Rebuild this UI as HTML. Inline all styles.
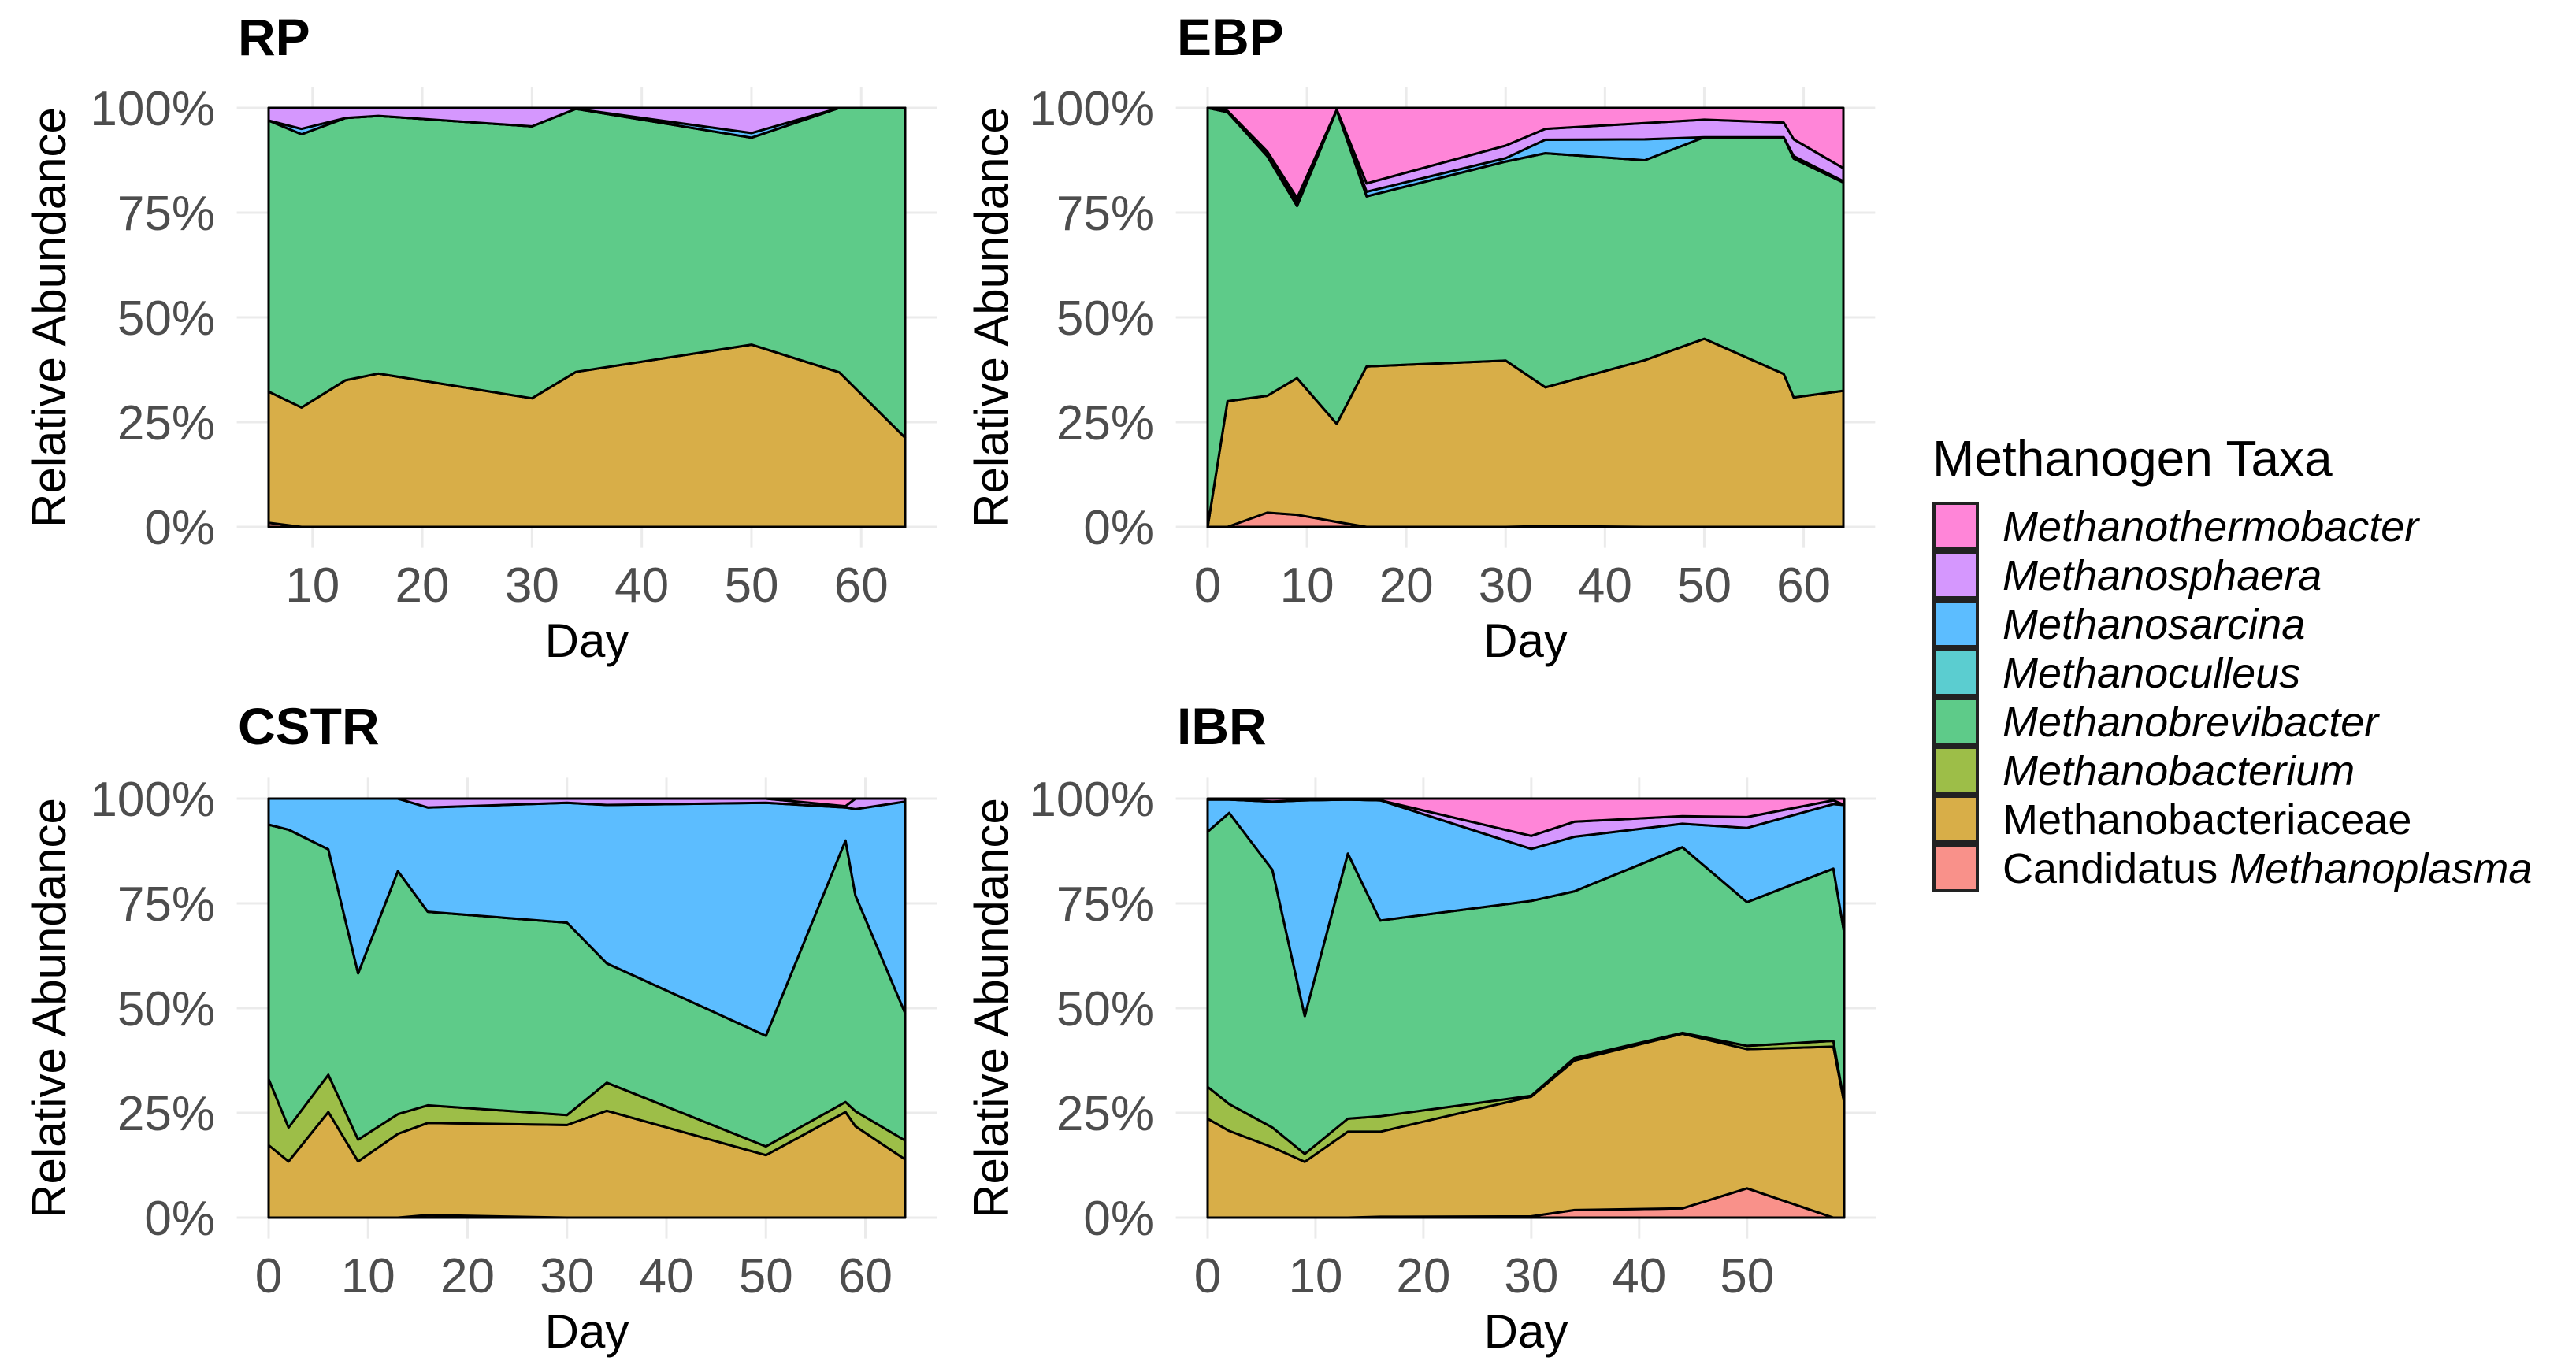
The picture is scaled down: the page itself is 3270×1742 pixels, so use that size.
<!DOCTYPE html>
<html><head><meta charset="utf-8"><style>
html,body{margin:0;padding:0;background:#fff;}
svg{display:block;}
text{font-family:"Liberation Sans",Arial,sans-serif;}
</style></head><body>
<svg id="chart" width="3270" height="1742" viewBox="0 0 3270 1742" xmlns="http://www.w3.org/2000/svg">
<rect x="0" y="0" width="3270" height="1742" fill="#fff"/>
<g id="panels"></g>
<g id="legend">
  <text x="2453" y="604" font-size="64" fill="#000">Methanogen Taxa</text>
</g>
</svg>
<script>
// Taxa (stack order bottom -> top)
const taxaNames = ["Candidatus Methanoplasma","Methanobacteriaceae","Methanobacterium","Methanobrevibacter","Methanoculleus","Methanosarcina","Methanosphaera","Methanothermobacter"];
const taxaColors = ["#F9918A","#D8AE48","#9DBE48","#5ECB89","#5BCDD0","#5CBDFF","#D597FE","#FF85D8"];
const percentTicks = [0,25,50,75,100];
const percentTickLabels = ["0%","25%","50%","75%","100%"];

// RP
const rpDays = [6,9,13,16,30,34,50,58,64];
const rpPlasma = [1,0,0,0,0,0,0,0,0];
const rpBacteriaceae = [31.3,28.5,35,36.6,30.7,37,43.5,36.9,21.3];
const rpBacterium = [0,0,0,0,0,0,0,0,0];
const rpBrevi = [64.7,65.2,62.6,61.5,64.9,62.8,49.4,63.1,78.7];
const rpCulleus = [0,0,0,0,0,0,0,0,0];
const rpSarcina = [0,1.3,0,0,0,0,1.1,0,0];
const rpSphaera = [3,5,2.4,1.9,4.4,0.2,6,0,0];
const rpThermo = [0,0,0,0,0,0,0,0,0];
const rpXTicks = [10,20,30,40,50,60];

// EBP
const ebpDays = [0,2,6,9,13,16,30,34,44,50,58,59,64];
const ebpPlasma = [0,0,3.4,2.9,1.2,0,0,0.2,0,0,0,0,0];
const ebpBacteriaceae = [0,30,27.9,32.6,23.4,38.3,39.7,33.1,39.8,44.9,36.5,30.9,32.5];
const ebpBacterium = [0,0,0,0,0,0,0,0,0,0,0,0,0];
const ebpBrevi = [100,69,57.2,41.1,74.9,40.6,47.5,55.9,47.7,48.1,56.5,57,49.7];
const ebpCulleus = [0,0,0,0,0,0,0,0,0,0,0,0,0];
const ebpSarcina = [0,0.2,0.8,0.9,0,1.1,0.8,3.2,5,0,0,0.6,0.3];
const ebpSphaera = [0,0.1,0.3,1,0.1,2,3,2.6,3.9,4.2,3.5,4,3.1];
const ebpThermo = [0,0.7,10.4,21.5,0.4,18,9,5,3.6,2.8,3.5,7.5,14.4];
const ebpXTicks = [0,10,20,30,40,50,60];

// CSTR
const cstrDays = [0,2,6,9,13,16,30,34,50,58,59,64];
const cstrPlasma = [0,0,0,0,0,0.6,0,0,0,0,0,0];
const cstrBacteriaceae = [17.3,13.4,25.2,13.4,20,22,22.1,25.5,14.9,25.2,21.8,13.9];
const cstrBacterium = [15.8,8.1,8.9,5.2,4.7,4.2,2.4,6.7,2.1,2.4,3.6,4.5];
const cstrBrevi = [60.7,71.1,53.8,39.7,58,46.2,45.9,28.5,26.4,62.4,51.5,30.4];
const cstrCulleus = [0,0,0,0,0,0,0,0,0,0,0,0];
const cstrSarcina = [6.2,7.4,12.1,41.7,17.3,24.9,28.6,37.8,55.6,7.9,20.6,50.5];
const cstrSphaera = [0,0,0,0,0,2.1,1,1.5,1,0.3,2.5,0.7];
const cstrThermo = [0,0,0,0,0,0,0,0,0,1.8,0,0];
const cstrXTicks = [0,10,20,30,40,50,60];

// IBR
const ibrDays = [0,2,6,9,13,16,30,34,44,50,58,59];
const ibrPlasma = [0,0,0,0,0,0.2,0.3,1.8,2.2,7,0,0];
const ibrBacteriaceae = [23.6,20.7,16.8,13.3,20.5,20.3,28.6,35.7,41.7,33.2,40.8,27.5];
const ibrBacterium = [7.6,6.4,4.7,1.9,3.1,3.7,0.2,0.6,0.2,0.8,1.4,0];
const ibrBrevi = [60.9,69.5,61.5,32.9,63.3,46.7,46.5,39.8,44.3,34.3,41.1,40.5];
const ibrCulleus = [0,0,0,0,0,0,0,0,0,0,0,0];
const ibrSarcina = [7.7,3.2,16.3,51.5,12.9,28.7,12.4,13,5.6,17.7,15.4,30.5];
const ibrSphaera = [0,0,0,0,0,0,3.1,3.6,1.8,2.6,0.9,0];
const ibrThermo = [0.2,0.2,0.7,0.4,0.2,0.4,8.9,5.5,4.2,4.4,0.4,1.5];
const ibrXTicks = [0,10,20,30,40,50];

const NS = "http://www.w3.org/2000/svg";
function mk(tag, attrs, parent){
  const e = document.createElementNS(NS, tag);
  for (const k in attrs) e.setAttribute(k, attrs[k]);
  parent.appendChild(e);
  return e;
}

const panelDefs = [
  {id:"rp", title:"RP", days:rpDays, series:[rpPlasma,rpBacteriaceae,rpBacterium,rpBrevi,rpCulleus,rpSarcina,rpSphaera,rpThermo], ticks:rpXTicks, L:341, R:1149, T:137, B:669, titleX:302, titleY:70, ylabX:83, tickR:273},
  {id:"ebp", title:"EBP", days:ebpDays, series:[ebpPlasma,ebpBacteriaceae,ebpBacterium,ebpBrevi,ebpCulleus,ebpSarcina,ebpSphaera,ebpThermo], ticks:ebpXTicks, L:1533, R:2340, T:137, B:669, titleX:1494, titleY:70, ylabX:1279, tickR:1465},
  {id:"cstr", title:"CSTR", days:cstrDays, series:[cstrPlasma,cstrBacteriaceae,cstrBacterium,cstrBrevi,cstrCulleus,cstrSarcina,cstrSphaera,cstrThermo], ticks:cstrXTicks, L:341, R:1149, T:1014, B:1546, titleX:302, titleY:945, ylabX:83, tickR:273},
  {id:"ibr", title:"IBR", days:ibrDays, series:[ibrPlasma,ibrBacteriaceae,ibrBacterium,ibrBrevi,ibrCulleus,ibrSarcina,ibrSphaera,ibrThermo], ticks:ibrXTicks, L:1533, R:2341, T:1014, B:1546, titleX:1494, titleY:945, ylabX:1279, tickR:1465}
];

const root = document.getElementById("panels");
panelDefs.forEach(p => {
  const g = mk("g", {}, root);
  
  
  const dmin = p.days[0], dmax = p.days[p.days.length-1];
  const xs = d => p.L + (d - dmin) / (dmax - dmin) * (p.R - p.L);
  const ys = v => p.B - v / 100 * (p.B - p.T);
  const padX = (p.R - p.L) * 0.05, padY = (p.B - p.T) * 0.05;
  const gl = p.L - padX, gr = p.R + padX, gt = p.T - padY, gb = p.B + padY;
  percentTicks.forEach(v => {
    const l = mk("line", {x1:gl, x2:gr, y1:ys(v), y2:ys(v), stroke:"#EBEBEB", "stroke-width":3}, g);
    
    
  });
  p.ticks.forEach(d => {
    const l = mk("line", {x1:xs(d), x2:xs(d), y1:gt, y2:gb, stroke:"#EBEBEB", "stroke-width":3}, g);
    
    
  });
  const n = p.days.length;
  let lower = new Array(n).fill(0);
  p.series.forEach((vals, si) => {
    const upper = lower.map((b, i) => b + vals[i]);
    let pts = [];
    for (let i = 0; i < n; i++) pts.push(xs(p.days[i]).toFixed(1) + "," + ys(upper[i]).toFixed(1));
    for (let i = n - 1; i >= 0; i--) pts.push(xs(p.days[i]).toFixed(1) + "," + ys(lower[i]).toFixed(1));
    const poly = mk("polygon", {points:pts.join(" "), fill:taxaColors[si], stroke:"#000", "stroke-width":3, "stroke-linejoin":"round"}, g);
    
    
    lower = upper;
  });
  const t = mk("text", {x:p.titleX, y:p.titleY, "font-size":66, "font-weight":"bold", fill:"#000"}, g);
  t.textContent = p.title;
  
  
  percentTicks.forEach((v, i) => {
    const tl = mk("text", {x:p.tickR, y:ys(v) + 22, "font-size":62, fill:"#4D4D4D", "text-anchor":"end"}, g);
    tl.textContent = percentTickLabels[i];
    
    
  });
  p.ticks.forEach(d => {
    const tl = mk("text", {x:xs(d), y:p.B + 95, "font-size":62, fill:"#4D4D4D", "text-anchor":"middle"}, g);
    tl.textContent = String(d);
    
    
  });
  const xt = mk("text", {x:(p.L + p.R) / 2, y:p.B + 165, "font-size":60, fill:"#000", "text-anchor":"middle"}, g);
  xt.textContent = "Day";
  
  
  const cy = (p.T + p.B) / 2;
  const yt = mk("text", {x:p.ylabX, y:cy, "font-size":60, fill:"#000", "text-anchor":"middle", transform:"rotate(-90 " + p.ylabX + " " + cy + ")"}, g);
  yt.textContent = "Relative Abundance";
  
  
});

const legend = document.getElementById("legend");
for (let k = 0; k < 8; k++) {
  const si = 7 - k;
  const y = 637 + k * 62;
  const eg = mk("g", {}, legend);
  
  
  const r = mk("rect", {x:2455, y:y + 2, width:55, height:58, fill:taxaColors[si], stroke:"#222", "stroke-width":4}, eg);
  
  
  const tx = mk("text", {x:2542, y:y + 50, "font-size":54, fill:"#000"}, eg);
  
  
  const name = taxaNames[si];
  if (name === "Methanobacteriaceae") {
    tx.textContent = name;
  } else if (name.startsWith("Candidatus")) {
    const a = mk("tspan", {}, tx); a.textContent = "Candidatus ";
    const b = mk("tspan", {"font-style":"italic"}, tx); b.textContent = "Methanoplasma";
  } else {
    tx.setAttribute("font-style", "italic");
    tx.textContent = name;
  }
}
</script>
</body></html>
